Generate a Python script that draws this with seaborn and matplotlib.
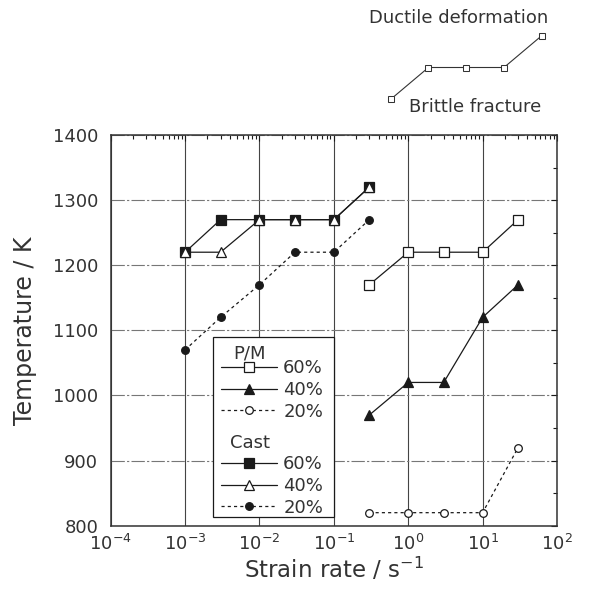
import numpy as np
import pandas as pd
import matplotlib.pyplot as plt
import matplotlib.ticker as mticker
from matplotlib.patches import Rectangle
import seaborn as sns

# Data (strain rate in 1/s, temperature in K)
pm_rate = [0.3, 1, 3, 10, 30]
pm60_temp = [1170, 1220, 1220, 1220, 1270]
pm40_temp = [970, 1020, 1020, 1120, 1170]
pm20_temp = [820, 820, 820, 820, 920]

cast_rate = [0.001, 0.003, 0.01, 0.03, 0.1, 0.3]
cast60_temp = [1220, 1270, 1270, 1270, 1270, 1320]
cast40_temp = [1220, 1220, 1270, 1270, 1270, 1320]
cast20_temp = [1070, 1120, 1170, 1220, 1220, 1270]

# Schematic in the top right corner (brittle -> ductile transition)
sketch_step = [0, 1, 2, 3, 4]
sketch_level = [0, 1, 1, 1, 2]

legend_labels = ['60%', '40%', '20%']

sns.set_style("white")
plt.rcParams['font.family'] = ['DejaVu Sans']
plt.rcParams['mathtext.fontset'] = 'dejavusans'

ink = '#1a1a1a'
dotted = (0, (2.5, 2.5))

fig, ax = plt.subplots(figsize=(5.9, 5.89), dpi=100)
fig.subplots_adjust(left=110.7 / 590, right=557 / 590,
                    bottom=(589 - 525.7) / 589, top=(589 - 135) / 589)

common = dict(ax=ax, sort=False, estimator=None, color=ink, linewidth=0.9,
              markeredgecolor=ink, markeredgewidth=0.9, zorder=3)

# Cast series
sns.lineplot(x=cast_rate, y=cast60_temp, marker='s', markersize=6.5,
             markerfacecolor=ink, **common)
cast60_line = ax.lines[-1]
sns.lineplot(x=cast_rate, y=cast40_temp, marker='^', markersize=6.5,
             markerfacecolor='white', **common)
cast40_line = ax.lines[-1]
sns.lineplot(x=cast_rate, y=cast20_temp, marker='o', markersize=5.5,
             markerfacecolor=ink, linestyle=dotted, **common)
cast20_line = ax.lines[-1]

# P/M series
sns.lineplot(x=pm_rate, y=pm60_temp, marker='s', markersize=6.5,
             markerfacecolor='white', **common)
pm60_line = ax.lines[-1]
sns.lineplot(x=pm_rate, y=pm40_temp, marker='^', markersize=6.5,
             markerfacecolor=ink, **common)
pm40_line = ax.lines[-1]
sns.lineplot(x=pm_rate, y=pm20_temp, marker='o', markersize=5.5,
             markerfacecolor='white', linestyle=dotted, **common)
pm20_line = ax.lines[-1]

# Axes, ticks and grid
ax.set_xscale('log')
ax.set_xlim(1e-4, 1e2)
ax.set_ylim(800, 1400)
ax.xaxis.set_major_locator(mticker.LogLocator(base=10, numticks=10))
ax.xaxis.set_minor_locator(mticker.LogLocator(base=10, subs=np.arange(2, 10), numticks=20))
ax.xaxis.set_minor_formatter(mticker.NullFormatter())
ax.yaxis.set_major_locator(mticker.MultipleLocator(100))
ax.yaxis.set_minor_locator(mticker.MultipleLocator(50))

ax.tick_params(which='both', direction='in', top=True, right=True, colors=ink,
               labelsize=13, labelcolor='#333')
ax.tick_params(which='major', length=4, width=0.8)
ax.tick_params(which='minor', length=3, width=0.8)
ax.tick_params(axis='y', pad=9)
ax.tick_params(axis='x', pad=6)

ax.grid(axis='x', which='major', color='#444', linewidth=0.8, linestyle='-')
ax.grid(axis='y', which='major', color='#777', linewidth=0.8, linestyle=(0, (12, 2, 2, 2)))
ax.set_axisbelow(True)
for sp in ax.spines.values():
    sp.set_color('#333')
    sp.set_linewidth(1.1)

ax.set_xlabel('Strain rate / s$^{-1}$', fontsize=16.5, color='#333')
ax.set_ylabel('Temperature / K', fontsize=17, color='#333')
ax.yaxis.set_label_coords(-0.165, 0.5)
ax.xaxis.set_label_coords(0.5, -0.078)

# Legend box with two groups
ax.add_patch(Rectangle((0.2292, 0.0223), 0.2707, 0.4607, transform=ax.transAxes,
                       facecolor='white', edgecolor=ink, linewidth=0.9, zorder=4))
leg_opts = dict(loc='upper left', frameon=False, borderpad=0, borderaxespad=0,
                labelspacing=0.2, handlelength=3.1, handletextpad=0.35, fontsize=13,
                labelcolor='#333')
leg_pm = ax.legend(handles=[pm60_line, pm40_line, pm20_line], labels=legend_labels,
                   bbox_to_anchor=(0.247, 0.4254), **leg_opts)
leg_pm.set_zorder(5)
ax.add_artist(leg_pm)
leg_cast = ax.legend(handles=[cast60_line, cast40_line, cast20_line], labels=legend_labels,
                     bbox_to_anchor=(0.247, 0.1797), **leg_opts)
leg_cast.set_zorder(5)
ax.text(0.312, 0.442, 'P/M', transform=ax.transAxes, ha='center', va='center',
        fontsize=13, color='#333', zorder=6)
ax.text(0.312, 0.211, 'Cast', transform=ax.transAxes, ha='center', va='center',
        fontsize=13, color='#333', zorder=6)

# Schematic inset
sax = fig.add_axes([390.7 / 590, (589 - 99.3) / 589, 151 / 590, (99.3 - 35.7) / 589])
sns.lineplot(x=sketch_step, y=sketch_level, ax=sax, sort=False, estimator=None,
             color='#333', linewidth=0.8, marker='s', markersize=5,
             markerfacecolor='white', markeredgecolor='#333', clip_on=False)
sax.set_xlim(0, 4)
sax.set_ylim(0, 2)
sax.axis('off')
fig.text(459 / 590, 1 - 18 / 589, 'Ductile deformation', ha='center', va='center',
         fontsize=13, color='#333')
fig.text(475 / 590, 1 - 107 / 589, 'Brittle fracture', ha='center', va='center',
         fontsize=13, color='#333')

plt.savefig('out.png', dpi=100)
plt.close()
